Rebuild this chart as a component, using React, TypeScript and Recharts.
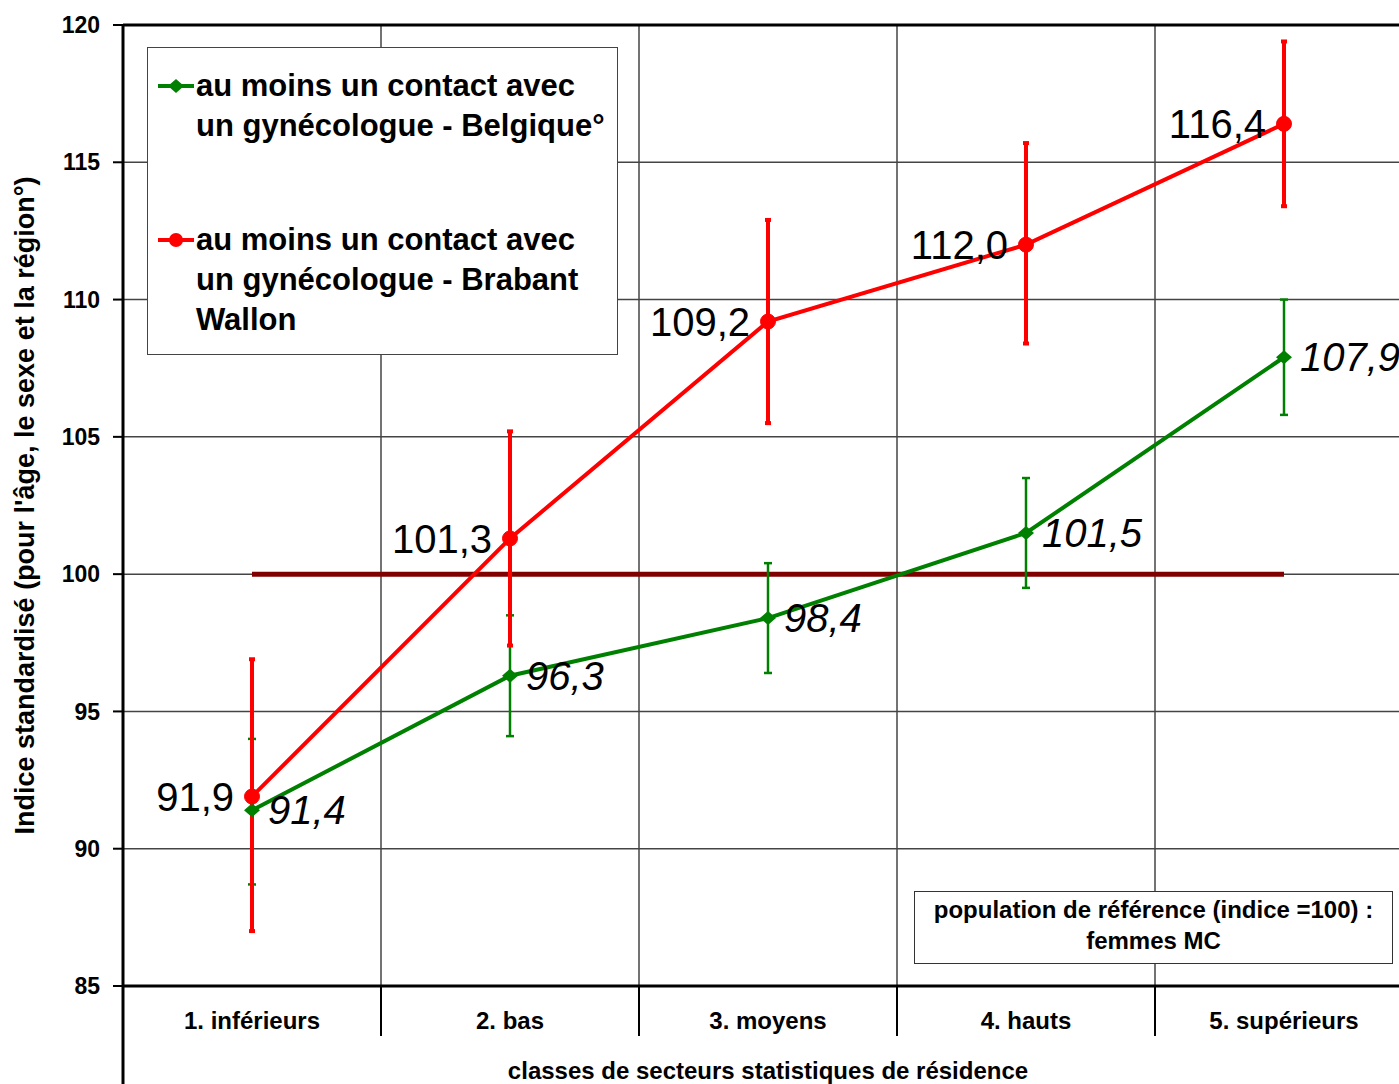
import React from "react";
import {
  CartesianGrid,
  ComposedChart,
  ErrorBar,
  LabelList,
  Legend,
  Line,
  ReferenceLine,
  XAxis,
  YAxis,
} from "recharts";

const FONT = "'Liberation Sans', Arial, sans-serif";

const categories = ["1. inférieurs", "2. bas", "3. moyens", "4. hauts", "5. supérieurs"];

const belgique = [91.4, 96.3, 98.4, 101.5, 107.9];
const belgiqueLow = [88.7, 94.1, 96.4, 99.5, 105.8];
const belgiqueHigh = [94.0, 98.5, 100.4, 103.5, 110.0];

const brabant = [91.9, 101.3, 109.2, 112.0, 116.4];
const brabantLow = [87.0, 97.4, 105.5, 108.4, 113.4];
const brabantHigh = [96.9, 105.2, 112.9, 115.7, 119.4];

const referenceIndex = 100;
const yTicks = [85, 90, 95, 100, 105, 110, 115, 120];

const belgiqueName = "au moins un contact avec un gynécologue - Belgique°";
const brabantName = "au moins un contact avec un gynécologue - Brabant Wallon";

// one row per category, centred in its band (pos = i + 0.5)
const rows = categories.map((name, i) => ({
  name,
  pos: i + 0.5,
  belgique: belgique[i],
  belgiqueErr: [belgique[i] - belgiqueLow[i], belgiqueHigh[i] - belgique[i]],
  brabant: brabant[i],
  brabantErr: [brabant[i] - brabantLow[i], brabantHigh[i] - brabant[i]],
  ref: referenceIndex,
}));

// ticks at band edges (separators) and band centres (labels)
const xTicks: number[] = [];
for (let i = 0; i <= categories.length * 2; i++) xTicks.push(i / 2);
const bandEdges = categories.slice(1).map((_, i) => i + 1);

const fmt = (v: any) => Number(v).toFixed(1).replace(".", ",");

const CategoryTick = (props: any) => {
  const { x, y, payload, index } = props;
  const v = payload.value as number;
  if (Number.isInteger(v)) {
    return (
      <line
        x1={x}
        y1={y}
        x2={x}
        y2={index === 0 ? y + 110 : y + 50}
        stroke="#000"
        strokeWidth={index === 0 ? 3 : 2}
      />
    );
  }
  return (
    <text
      x={x}
      y={y + 34}
      textAnchor="middle"
      dominantBaseline="central"
      fontFamily={FONT}
      fontWeight="bold"
      fontSize={24}
      fill="#000"
    >
      {categories[Math.floor(v)]}
    </text>
  );
};

const Diamond = (props: any) => {
  const { cx, cy, index } = props;
  if (cx == null || cy == null) return <g key={index} />;
  return (
    <path
      key={index}
      d={`M${cx - 8},${cy} L${cx},${cy - 7} L${cx + 8},${cy} L${cx},${cy + 7} Z`}
      fill="#008000"
    />
  );
};

const LegendBox = (props: any) => {
  const items = (props.payload || []).filter(
    (entry: any) => entry.dataKey !== "ref" && entry.type !== "none"
  );
  return (
    <div
      style={{
        boxSizing: "border-box",
        width: 471,
        height: 308,
        border: "1.5px solid #444",
        background: "#fff",
        padding: "18px 0 0 9px",
      }}
    >
      {items.map((entry: any, i: number) => (
        <div key={i} style={{ display: "flex", alignItems: "flex-start", marginTop: i ? 74 : 0 }}>
          <svg width={39} height={40} style={{ flex: "none" }}>
            <line x1={1} y1={20} x2={37} y2={20} stroke={entry.color} strokeWidth={4} />
            {entry.dataKey === "belgique" ? (
              <path d="M11,20 L19,13 L27,20 L19,27 Z" fill={entry.color} />
            ) : (
              <circle cx={19} cy={20} r={7} fill={entry.color} />
            )}
          </svg>
          <div
            style={{
              width: 416,
              fontFamily: FONT,
              fontWeight: "bold",
              fontSize: 31,
              lineHeight: "40px",
              color: "#000",
            }}
          >
            {entry.value}
          </div>
        </div>
      ))}
    </div>
  );
};

export default function App() {
  return (
    <div
      style={{
        position: "absolute",
        left: 0,
        top: 0,
        width: 1399,
        height: 1084,
        overflow: "hidden",
        background: "#fff",
      }}
    >
      <ComposedChart
        width={1420}
        height={1084}
        data={rows}
        margin={{ top: 25, right: 7, bottom: 0, left: 0 }}
      >
        <CartesianGrid stroke="#444" strokeWidth={1.5} verticalValues={bandEdges} />
        <XAxis
          type="number"
          dataKey="pos"
          domain={[0, categories.length]}
          ticks={xTicks}
          interval={0}
          height={98}
          tickSize={0}
          tickMargin={0}
          tickLine={false}
          axisLine={{ stroke: "#000", strokeWidth: 3 }}
          tick={<CategoryTick />}
          label={(p: any) => {
            const vb = p.viewBox;
            return (
              <text
                x={vb.x + vb.width / 2}
                y={vb.y + 84}
                textAnchor="middle"
                dominantBaseline="central"
                fontFamily={FONT}
                fontWeight="bold"
                fontSize={24}
                fill="#000"
              >
                classes de secteurs statistiques de résidence
              </text>
            );
          }}
        />
        <YAxis
          type="number"
          domain={[85, 120]}
          ticks={yTicks}
          interval={0}
          width={123}
          tickSize={10}
          tickMargin={13}
          tickLine={{ stroke: "#000", strokeWidth: 2 }}
          axisLine={{ stroke: "#000", strokeWidth: 3 }}
          tick={{ fill: "#000", fontSize: 23, fontWeight: "bold", fontFamily: FONT }}
          label={(p: any) => {
            const vb = p.viewBox;
            const cx = 25;
            const cy = vb.y + vb.height / 2;
            return (
              <text
                x={cx}
                y={cy}
                transform={`rotate(-90, ${cx}, ${cy})`}
                textAnchor="middle"
                dominantBaseline="central"
                fontFamily={FONT}
                fontWeight="bold"
                fontSize={27}
                fill="#000"
              >
                Indice standardisé (pour l'âge, le sexe et la région°)
              </text>
            );
          }}
        />
        <ReferenceLine y={120} stroke="#000" strokeWidth={3} />
        <Line
          dataKey="ref"
          stroke="#800000"
          strokeWidth={5}
          dot={false}
          legendType="none"
          isAnimationActive={false}
        />
        <Line
          dataKey="belgique"
          name={belgiqueName}
          stroke="#008000"
          strokeWidth={4}
          dot={<Diamond />}
          isAnimationActive={false}
        >
          <ErrorBar
            dataKey="belgiqueErr"
            direction="y"
            width={4}
            strokeWidth={2.5}
            stroke="#008000"
            isAnimationActive={false}
          />
          <LabelList
            dataKey="belgique"
            position="right"
            offset={16}
            formatter={fmt}
            fill="#000"
            fontSize={40}
            fontStyle="italic"
            fontFamily={FONT}
          />
        </Line>
        <Line
          dataKey="brabant"
          name={brabantName}
          stroke="#ff0000"
          strokeWidth={4}
          dot={{ r: 7.5, fill: "#ff0000", stroke: "#ff0000", strokeWidth: 1 }}
          isAnimationActive={false}
        >
          <ErrorBar
            dataKey="brabantErr"
            direction="y"
            width={3}
            strokeWidth={4}
            stroke="#ff0000"
            isAnimationActive={false}
          />
          <LabelList
            dataKey="brabant"
            position="left"
            offset={18}
            formatter={fmt}
            fill="#000"
            fontSize={40}
            fontFamily={FONT}
          />
        </Line>
        <Legend
          layout="vertical"
          align="center"
          verticalAlign="middle"
          content={<LegendBox />}
          wrapperStyle={{ left: 147, top: 47, width: 471, height: 308 }}
        />
      </ComposedChart>
      <div
        style={{
          position: "absolute",
          left: 914,
          top: 891,
          width: 479,
          height: 73,
          boxSizing: "border-box",
          border: "1.5px solid #333",
          background: "#fff",
          paddingTop: 2,
          textAlign: "center",
          fontFamily: FONT,
          fontWeight: "bold",
          fontSize: 24,
          lineHeight: "31px",
          color: "#000",
        }}
      >
        population de référence (indice =100) :<br />
        femmes MC
      </div>
    </div>
  );
}
